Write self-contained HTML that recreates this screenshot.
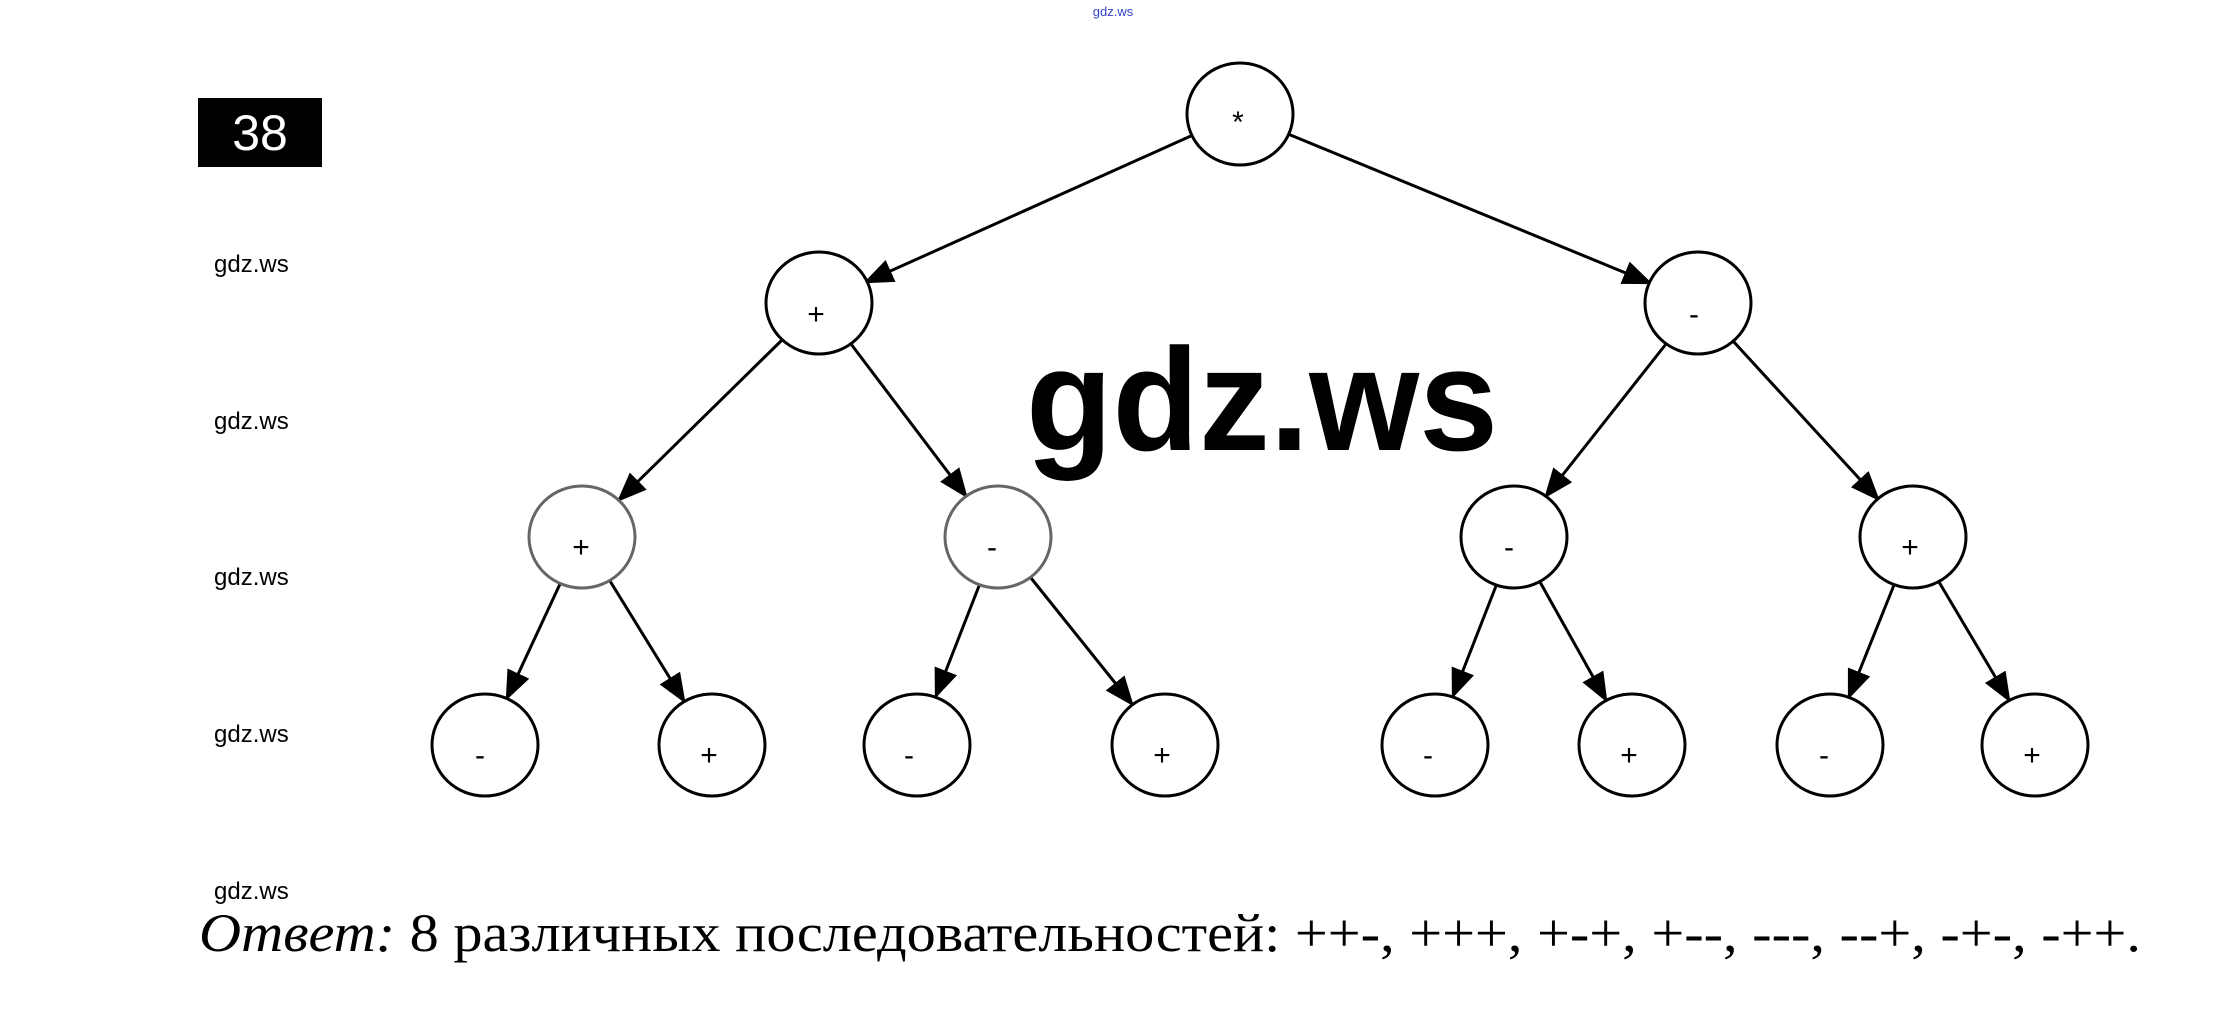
<!DOCTYPE html>
<html><head><meta charset="utf-8"><style>
html,body{margin:0;padding:0;background:#fff;}
svg{display:block;}
</style></head><body>
<svg width="2222" height="1031" viewBox="0 0 2222 1031" xmlns="http://www.w3.org/2000/svg">
<defs>
<marker id="a" markerWidth="10" markerHeight="8" refX="9" refY="4" orient="auto" markerUnits="strokeWidth">
<path d="M0,0 L10,4 L0,8 z" fill="#000"/>
</marker>
</defs>
<text x="1113" y="16" font-family="Liberation Sans, sans-serif" font-size="13" fill="#3344cc" text-anchor="middle">gdz.ws</text>
<rect x="198" y="98" width="124" height="69" fill="#000"/>
<text x="260" y="150" font-family="Liberation Sans, sans-serif" font-size="50" fill="#fff" text-anchor="middle">38</text>
<g font-family="Liberation Sans, sans-serif" font-size="24" fill="#000">
<text x="214" y="272">gdz.ws</text>
<text x="214" y="429">gdz.ws</text>
<text x="214" y="585">gdz.ws</text>
<text x="214" y="742">gdz.ws</text>
<text x="214" y="899">gdz.ws</text>
</g>
<g transform="translate(-6,0)">
<g stroke="#000" stroke-width="3" marker-end="url(#a)">
<line x1="1199" y1="135" x2="872" y2="282"/>
<line x1="1294" y1="134" x2="1656" y2="283"/>
<line x1="788" y1="340" x2="625" y2="500"/>
<line x1="857" y1="344" x2="972" y2="496"/>
<line x1="1672" y1="344" x2="1552" y2="496"/>
<line x1="1739" y1="341" x2="1884" y2="499"/>
<line x1="566" y1="584" x2="513" y2="698"/>
<line x1="616" y1="581" x2="690" y2="701"/>
<line x1="985" y1="586" x2="942" y2="696"/>
<line x1="1037" y1="578" x2="1138" y2="704"/>
<line x1="1502" y1="586" x2="1459" y2="696"/>
<line x1="1546" y1="582" x2="1612" y2="700"/>
<line x1="1900" y1="585" x2="1855" y2="697"/>
<line x1="1945" y1="582" x2="2015" y2="700"/>
</g>
<g fill="#fff" stroke="#000" stroke-width="3">
<ellipse cx="1246" cy="114" rx="53" ry="51"/>
<ellipse cx="825" cy="303" rx="53" ry="51"/>
<ellipse cx="1704" cy="303" rx="53" ry="51"/>
<ellipse cx="588" cy="537" rx="53" ry="51" stroke="#666"/>
<ellipse cx="1004" cy="537" rx="53" ry="51" stroke="#666"/>
<ellipse cx="1520" cy="537" rx="53" ry="51"/>
<ellipse cx="1919" cy="537" rx="53" ry="51"/>
<ellipse cx="491" cy="745" rx="53" ry="51"/>
<ellipse cx="718" cy="745" rx="53" ry="51"/>
<ellipse cx="923" cy="745" rx="53" ry="51"/>
<ellipse cx="1171" cy="745" rx="53" ry="51"/>
<ellipse cx="1441" cy="745" rx="53" ry="51"/>
<ellipse cx="1638" cy="745" rx="53" ry="51"/>
<ellipse cx="1836" cy="745" rx="53" ry="51"/>
<ellipse cx="2041" cy="745" rx="53" ry="51"/>
</g>
<g font-family="Liberation Sans, sans-serif" font-size="30" fill="#000" text-anchor="middle">
<text x="1244" y="132">*</text>
<text x="822" y="324">+</text>
<text x="1700" y="324">-</text>
<text x="587" y="557">+</text>
<text x="998" y="557">-</text>
<text x="1515" y="557">-</text>
<text x="1916" y="557">+</text>
<text x="486" y="765">-</text>
<text x="715" y="765">+</text>
<text x="915" y="765">-</text>
<text x="1168" y="765">+</text>
<text x="1434" y="765">-</text>
<text x="1635" y="765">+</text>
<text x="1830" y="765">-</text>
<text x="2038" y="765">+</text>
</g>
</g>
<text x="1026" y="450" font-family="Liberation Sans, sans-serif" font-weight="bold" font-size="146" textLength="472" lengthAdjust="spacingAndGlyphs" fill="#000">gdz.ws</text>
<text x="199" y="951" font-family="Liberation Serif, serif" font-size="54" fill="#000" textLength="1942" lengthAdjust="spacingAndGlyphs"><tspan font-style="italic">Ответ:</tspan> 8 различных последовательностей: ++-, +++, +-+, +--, ---, --+, -+-, -++.</text>
</svg>
</body></html>
